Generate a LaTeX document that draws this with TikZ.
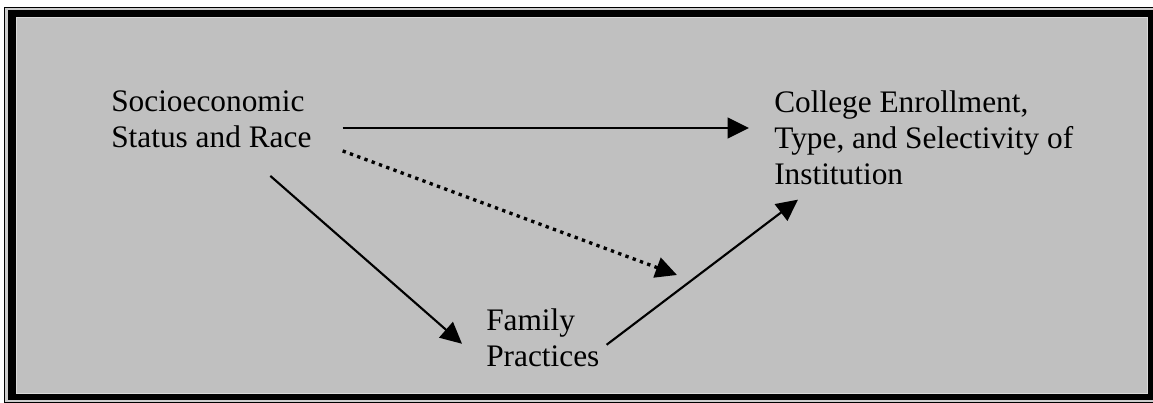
\documentclass[tikz,border=0pt]{standalone}
\usepackage{fontspec}
\setmainfont{Liberation Serif}
\usetikzlibrary{arrows.meta,calc}
\definecolor{panelgray}{HTML}{C0C0C0}
\definecolor{gapgray}{HTML}{CDCDCD}

\begin{document}
\begin{tikzpicture}[x=0.75pt, y=-0.75pt,
    every node/.style={font=\fontsize{23.5}{26.8}\selectfont, align=left, inner sep=0pt, anchor=north west},
    link/.style={line width=1.6pt, -{Triangle[length=16pt,width=15.5pt]}},
    dotlink/.style={link, line width=2.5pt, dash pattern=on 2.5pt off 3.3pt}] % pixel units, y downwards

    % --- Frame ---
    % White page, thin outer rule, thick black band, grey panel
    \useasboundingbox (0,0) rectangle (1153,403);
    \fill[white] (0,0) rectangle (1153,403);
    \draw[fill=gapgray, line width=0.9pt] (4.5,7.5) rectangle (1160,402.5);
    \fill[black] (8,10) rectangle (1160,400);
    \draw[fill=panelgray, draw=gray!30, line width=0.75pt] (16,18) rectangle (1147,393);

    % --- Nodes ---
    \node (ses) at (111,90.6) {Socioeconomic\\Status and Race};
    \node (coll) at (774,90.6) {College Enrollment,\\Type, and Selectivity of\\Institution};
    \node (fam) at (486,308.6) {Family\\Practices};

    % Free end of the dotted arrow
    \coordinate (dotend) at (677,275);

    % --- Arrows ---
    % Direct path SES -> college outcome
    \draw[link] ($(ses.north east)+(31,37.4)$) -- ($(coll.north west)+(-25,37.4)$);
    % Moderated path (dotted)
    \draw[dotlink] ($(ses.south east)+(31,3)$) -- (dotend);
    % SES -> family practices -> college outcome
    \draw[link] ($(ses.south)+(59,28)$) -- ($(fam.west)+(-24,6)$);
    \draw[link] ($(fam.east)+(7,7)$) -- ($(coll.south west)+(24,15)$);

\end{tikzpicture}
\end{document}
